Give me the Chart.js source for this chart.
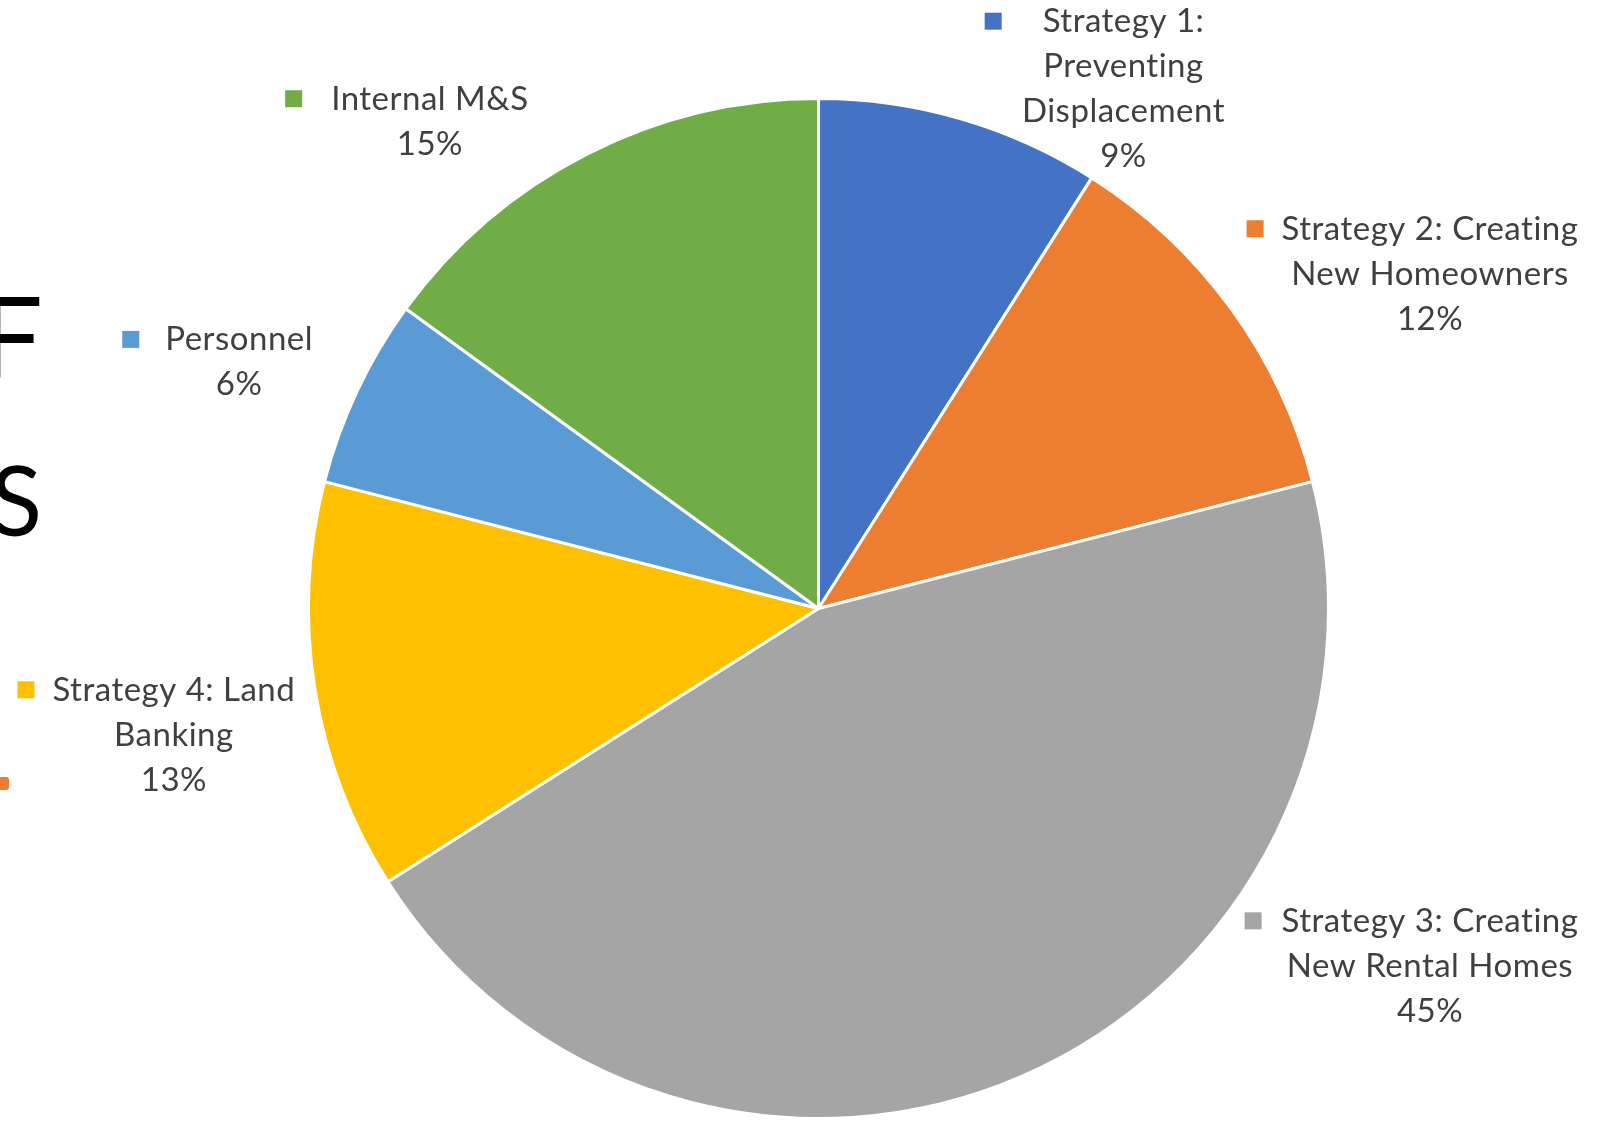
<!DOCTYPE html>
<html>
<head>
<meta charset="utf-8">
<title>Budget allocation</title>
<script src="https://cdn.jsdelivr.net/npm/chart.js@4.4.1/dist/chart.umd.min.js"></script>
<style>
  html, body { margin: 0; padding: 0; background: #ffffff; overflow: hidden; }
  #wrap { position: relative; width: 1606px; height: 1124px; }
  canvas { display: block; }
</style>
</head>
<body>
<div id="wrap"><canvas id="pie" width="1606" height="1124"></canvas></div>
<script>
// Budget categories (multi-line names, as wrapped in the labels)
const categories = [
  ['Strategy 1:', 'Preventing', 'Displacement'],
  ['Strategy 2: Creating', 'New Homeowners'],
  ['Strategy 3: Creating', 'New Rental Homes'],
  ['Strategy 4: Land', 'Banking'],
  ['Personnel'],
  ['Internal M&S']
];

// Share of the budget, in percent
const shares = [9, 12, 45, 13, 6, 15];

// Office-style slice colours
const sliceColors = ['#4472C4', '#ED7D31', '#A5A5A5', '#FFC000', '#5B9BD5', '#70AD47'];

// Label placement relative to the pie centre, in units of the radius
// (dx: centre of the text block, dy: baseline of its first line)
const labelSpots = [
  { dx: 0.598,  dy: -1.130, keyGap: 41 },
  { dx: 1.199,  dy: -0.723, keyGap: 18 },
  { dx: 1.199,  dy: 0.634,  keyGap: 20 },
  { dx: -1.264, dy: 0.181,  keyGap: 18 },
  { dx: -1.136, dy: -0.506, keyGap: 26 },
  { dx: -0.762, dy: -0.978, keyGap: 29 }
];

const LABEL_FONT = '33px Lato, "Open Sans", sans-serif';
const LABEL_SPACING = '0.5px';
const LABEL_COLOR = '#404040';
const LINE_STEP = 45;
const KEY_SIZE = 17;

// Outside labels: legend key + wrapped category name + percentage
const sliceLabels = {
  id: 'sliceLabels',
  afterDatasetsDraw(chart) {
    const ctx = chart.ctx;
    const meta = chart.getDatasetMeta(0);
    const values = chart.data.datasets[0].data;
    const total = values.reduce((a, b) => a + b, 0);
    ctx.save();
    ctx.font = LABEL_FONT;
    if ('letterSpacing' in ctx) ctx.letterSpacing = LABEL_SPACING;
    ctx.fillStyle = LABEL_COLOR;
    ctx.textAlign = 'center';
    ctx.textBaseline = 'alphabetic';
    meta.data.forEach((arc, i) => {
      const p = arc.getProps(['x', 'y', 'outerRadius'], true);
      const spot = labelSpots[i];
      const cx = p.x + spot.dx * p.outerRadius;
      const by = p.y + spot.dy * p.outerRadius;
      const name = chart.data.labels[i];
      const lines = (Array.isArray(name) ? name : [name]).concat(
        Math.round(values[i] / total * 100) + '%'
      );
      lines.forEach((line, k) => {
        ctx.fillStyle = LABEL_COLOR;
        ctx.fillText(line, cx, by + k * LINE_STEP);
      });
      // legend key in front of the first line
      const w0 = ctx.measureText(lines[0]).width;
      const keyRight = cx - w0 / 2 - spot.keyGap;
      ctx.fillStyle = chart.data.datasets[0].backgroundColor[i];
      ctx.fillRect(keyRight - KEY_SIZE, by - 11 - KEY_SIZE / 2, KEY_SIZE, KEY_SIZE);
    });
    ctx.restore();
  }
};

// Slide text cut off at the left edge
const slideEdge = {
  id: 'slideEdge',
  beforeDraw(chart) {
    const ctx = chart.ctx;
    ctx.save();
    ctx.fillStyle = '#000000';
    ctx.textBaseline = 'alphabetic';
    ctx.textAlign = 'left';
    ctx.font = '113px Lato, sans-serif';
    let m = ctx.measureText('F');
    ctx.fillText('F', 40 - m.actualBoundingBoxRight, 378);
    ctx.font = '96px Lato, sans-serif';
    m = ctx.measureText('S');
    ctx.fillText('S', 38 - m.actualBoundingBoxRight, 536);
    // bullet fragment
    ctx.fillStyle = '#ED7D31';
    ctx.beginPath();
    ctx.roundRect(-6, 777, 15, 13, 3);
    ctx.fill();
    ctx.restore();
  }
};

new Chart(document.getElementById('pie'), {
  type: 'pie',
  data: {
    labels: categories,
    datasets: [{
      data: shares,
      backgroundColor: sliceColors,
      borderColor: '#ffffff',
      borderWidth: 3
    }]
  },
  options: {
    responsive: false,
    animation: false,
    radius: 510,
    layout: { padding: { left: 31, right: 0, top: 93, bottom: 0 } },
    plugins: {
      legend: { display: false },
      tooltip: { enabled: false }
    }
  },
  plugins: [slideEdge, sliceLabels]
});
</script>
</body>
</html>
